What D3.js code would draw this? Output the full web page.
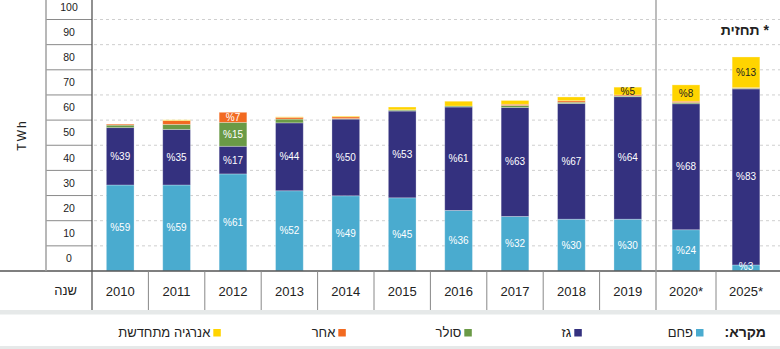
<!DOCTYPE html>
<html>
<head>
<meta charset="utf-8">
<script src="https://cdn.jsdelivr.net/npm/d3@7"></script>
<style>
  body { margin: 0; background: #fff; }
  svg { display: block; font-family: "Liberation Sans", Arial, sans-serif; }
</style>
</head>
<body>
<svg width="780" height="349"></svg>
<script>
// electricity production by fuel, TWh
var years = ["2010", "2011", "2012", "2013", "2014", "2015", "2016", "2017", "2018", "2019", "2020*", "2025*"];
var forecastYears = ["2020*", "2025*"];
var coal = [34.2, 34.2, 38.6, 31.9, 29.9, 29.1, 24.1, 21.7, 20.6, 20.6, 16.4, 2.4];
var gas = [22.8, 22.1, 11.0, 27.0, 30.5, 34.5, 41.1, 43.3, 46.0, 48.7, 50.1, 70.0];
var solar = [1.0, 2.0, 9.5, 1.5, 0.2, 0.4, 0.4, 0.8, 0.5, 0.3, 0.5, 0.3];
var other = [0.4, 1.5, 4.0, 0.7, 0.7, 0.1, 0.0, 0.5, 0.6, 0.4, 0.5, 0.2];
var renewable = [0.0, 0.3, 0.0, 0.2, 0.3, 1.1, 1.9, 1.5, 1.5, 3.1, 6.5, 12.2];
// percent labels printed on the bars
var coalPct = [59, 59, 61, 52, 49, 45, 36, 32, 30, 30, 24, 3];
var gasPct = [39, 35, 17, 44, 50, 53, 61, 63, 67, 64, 68, 83];
var solarPct = [null, null, 15, null, null, null, null, null, null, null, null, null];
var otherPct = [null, null, 7, null, null, null, null, null, null, null, null, null];
var renewablePct = [null, null, null, null, null, null, null, null, null, 5, 8, 13];
var yTicks = [0, 10, 20, 30, 40, 50, 60, 70, 80, 90, 100];

var series = [
  { key: "coal", name: "פחם", color: "#4aabcf", values: coal, pct: coalPct },
  { key: "gas", name: "גז", color: "#34317f", values: gas, pct: gasPct },
  { key: "solar", name: "סולר", color: "#6a9a46", values: solar, pct: solarPct },
  { key: "other", name: "אחר", color: "#f26a21", values: other, pct: otherPct },
  { key: "renewable", name: "אנרגיה מתחדשת", color: "#ffd400", values: renewable, pct: renewablePct }
];

var svg = d3.select("svg"),
  width = +svg.attr("width"),
  height = +svg.attr("height");

var axisY = 271, yearRowBottom = 310;
var plotLeft = 92, splitX = 656, plotRight = 776;
var barWidth = 27.7;

var y = d3.scaleLinear().domain([0, 100]).range([axisY, 19.5]);

// two band scales: history and forecast columns are of different widths
var histYears = years.filter(function(d) { return forecastYears.indexOf(d) < 0; });
var xHist = d3.scaleBand().domain(histYears).range([plotLeft, splitX]);
var xFore = d3.scaleBand().domain(forecastYears).range([splitX, plotRight]);
function xBand(d) { return forecastYears.indexOf(d) < 0 ? xHist : xFore; }
function xCenter(d) { var s = xBand(d); return s(d) + s.bandwidth() / 2; }

// stack the series
var rows = years.map(function(yr, i) {
  var r = { year: yr };
  series.forEach(function(s) { r[s.key] = s.values[i]; });
  return r;
});
var stack = d3.stack().keys(series.map(function(s) { return s.key; }));
var stacked = stack(rows);

// dashed grid
svg.append("g")
  .selectAll("line")
  .data(yTicks.filter(function(d) { return d > 0; }))
  .enter().append("line")
  .attr("x1", plotLeft + 2).attr("x2", width)
  .attr("y1", function(d) { return y(d); }).attr("y2", function(d) { return y(d); })
  .attr("stroke", "#cfcfcf")
  .attr("stroke-dasharray", "3,3");

// tick label cells on the left
var cells = svg.append("g");
cells.selectAll("line")
  .data(yTicks.filter(function(d) { return d > 0; }))
  .enter().append("line")
  .attr("x1", 46).attr("x2", plotLeft)
  .attr("y1", function(d) { return y(d); }).attr("y2", function(d) { return y(d); })
  .attr("stroke", "#8a8a8a");
cells.selectAll("text")
  .data(yTicks)
  .enter().append("text")
  .attr("x", 69)
  .attr("y", function(d) { return y(d) - 12.5; })
  .attr("dy", "0.35em")
  .attr("text-anchor", "middle")
  .attr("font-size", 10.5)
  .attr("fill", "#222")
  .text(function(d) { return d; });

svg.append("text")
  .attr("transform", "translate(26,135) rotate(-90)")
  .attr("text-anchor", "middle")
  .attr("font-size", 12)
  .attr("letter-spacing", 2)
  .attr("fill", "#222")
  .text("TWh");

// bars
var layer = svg.append("g").selectAll("g")
  .data(stacked)
  .enter().append("g")
  .attr("fill", function(d, i) { return series[i].color; });

layer.selectAll("rect")
  .data(function(d) { return d; })
  .enter().append("rect")
  .attr("x", function(d) { return xCenter(d.data.year) - barWidth / 2; })
  .attr("width", barWidth)
  .attr("y", function(d) { return y(d[1]); })
  .attr("height", function(d) { return y(d[0]) - y(d[1]); })
  .attr("stroke", "rgba(255,255,255,0.35)")
  .attr("stroke-width", 0.8);

// percent labels
stacked.forEach(function(layerData, si) {
  var s = series[si];
  svg.append("g").selectAll("text")
    .data(layerData.filter(function(d, i) { return s.pct[i] != null; }))
    .enter().append("text")
    .attr("x", function(d) { return xCenter(d.data.year); })
    .attr("y", function(d) { return Math.min((y(d[0]) + y(d[1])) / 2, axisY - 5); })
    .attr("dy", "0.35em")
    .attr("text-anchor", "middle")
    .attr("font-size", 10)
    .attr("fill", s.key == "renewable" ? "#222" : "#fff")
    .text(function(d) { return "%" + s.pct[years.indexOf(d.data.year)]; });
});

// frame lines
svg.append("line")
  .attr("x1", 0).attr("x2", width).attr("y1", axisY).attr("y2", axisY)
  .attr("stroke", "#555").attr("stroke-width", 1.3);
svg.append("line")
  .attr("x1", 46).attr("x2", 46).attr("y1", 0).attr("y2", axisY)
  .attr("stroke", "#a0a0a0").attr("stroke-width", 1.5);
svg.append("line")
  .attr("x1", plotLeft).attr("x2", plotLeft).attr("y1", 0).attr("y2", yearRowBottom)
  .attr("stroke", "#555").attr("stroke-width", 1.3);
svg.append("line")
  .attr("x1", splitX).attr("x2", splitX).attr("y1", 0).attr("y2", yearRowBottom)
  .attr("stroke", "#999").attr("stroke-width", 1.3);

// year row
var yearRow = svg.append("g");
yearRow.selectAll("line")
  .data(years.slice(1).filter(function(d) { return d != forecastYears[0]; }))
  .enter().append("line")
  .attr("x1", function(d) { return xBand(d)(d); })
  .attr("x2", function(d) { return xBand(d)(d); })
  .attr("y1", axisY).attr("y2", yearRowBottom)
  .attr("stroke", "#888");
yearRow.selectAll("text")
  .data(years)
  .enter().append("text")
  .attr("x", function(d) { return xCenter(d); })
  .attr("y", 291)
  .attr("dy", "0.35em")
  .attr("text-anchor", "middle")
  .attr("font-size", 13)
  .attr("fill", "#222")
  .text(function(d) { return d; });
yearRow.append("text")
  .attr("x", 77).attr("y", 290)
  .attr("dy", "0.35em")
  .attr("text-anchor", "end")
  .attr("font-size", 13)
  .attr("fill", "#222")
  .text("שנה");

// forecast note
svg.append("text")
  .attr("x", 769).attr("y", 30)
  .attr("dy", "0.35em")
  .attr("text-anchor", "end")
  .attr("font-size", 14)
  .attr("font-weight", "bold")
  .attr("fill", "#222")
  .text("תחזית *");

// gray bands round the legend
svg.append("rect").attr("x", 0).attr("y", yearRowBottom).attr("width", width).attr("height", 4.5).attr("fill", "#e6e9e9");
svg.append("rect").attr("x", 0).attr("y", 346).attr("width", width).attr("height", 3).attr("fill", "#e6e9e9");

// legend, right to left
var legendX = [696, 574.3, 464.3, 338.3, 213.3];
var legendY = 332.5;
svg.append("text")
  .attr("x", 766).attr("y", legendY)
  .attr("dy", "0.35em")
  .attr("text-anchor", "end")
  .attr("font-size", 14)
  .attr("font-weight", "bold")
  .attr("fill", "#222")
  .text(":מקרא");

var legend = svg.append("g").selectAll("g")
  .data(series)
  .enter().append("g")
  .attr("transform", function(d, i) { return "translate(" + legendX[i] + "," + legendY + ")"; });
legend.append("rect")
  .attr("x", 0).attr("y", -3.5)
  .attr("width", 7.5).attr("height", 7.5)
  .attr("fill", function(d) { return d.color; });
legend.append("text")
  .attr("x", -3).attr("y", 0)
  .attr("dy", "0.35em")
  .attr("text-anchor", "end")
  .attr("font-size", 13)
  .attr("fill", "#222")
  .text(function(d) { return d.name; });
</script>
</body>
</html>
